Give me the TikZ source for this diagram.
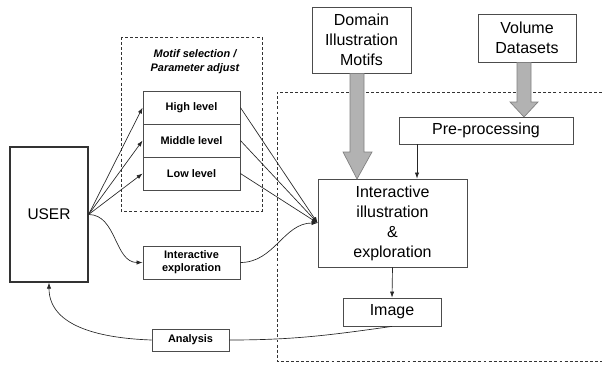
\documentclass[tikz,border=0pt]{standalone}
\usepackage{fontspec}
\setmainfont{Liberation Sans}
\usetikzlibrary{arrows.meta,calc}
\begin{document}
\begin{tikzpicture}[x=0.75pt,y=-0.75pt,
  box/.style={draw=black!70,line width=0.6pt,fill=white,inner sep=0pt,align=center},
  big/.style={font=\fontsize{12}{15}\selectfont},
  small/.style={font=\fontsize{8.2}{10}\selectfont\bfseries},
  conn/.style={draw=black!85,line width=0.5pt,-{Latex[length=4.5pt,width=3.2pt]}},
  plain/.style={draw=black!85,line width=0.5pt},
  dashbox/.style={draw=black!80,line width=0.6pt,dash pattern=on 2.2pt off 1.6pt},
  fat/.style={fill=black!30,draw=black!50,line width=0.5pt}]
\useasboundingbox (0,0) rectangle (602,364);
% dashed regions
\draw[dashbox] (121,37) rectangle (262,211);
\draw[dashbox] (602,92) -- (277,92) -- (277,361) -- (602,361);
\node[font=\fontsize{8.2}{10.5}\selectfont\bfseries\itshape,align=center] (motif) at (195,62) {Motif selection /\\Parameter adjust};
% nodes
\node[box,minimum width=58.5pt,minimum height=101.25pt,line width=0.9pt,draw=black!80,font=\fontsize{11.6}{14}\selectfont] (user) at (49,214.5) {USER};
\node[box,small,minimum width=72.75pt,minimum height=24.75pt] (high) at (191.5,107.5) {High level};
\node[box,small,minimum width=72.75pt,minimum height=24.75pt] (mid) at (191.5,140.5) {Middle level};
\node[box,small,minimum width=72.75pt,minimum height=24.75pt] (low) at (191.5,173.5) {Low level};
\node[box,small,minimum width=72.75pt,minimum height=24.75pt] (iexp) at (191.5,262.5) {Interactive\\exploration};
\node[box,small,minimum width=57.75pt,minimum height=16.5pt] (ana) at (190.5,340) {Analysis};
\node[box,big,minimum width=74.25pt,minimum height=49.5pt] (dom) at (361.5,40) {Domain\\Illustration\\Motifs};
\node[box,big,minimum width=73.5pt,minimum height=36pt] (vol) at (527,38) {Volume\\Datasets};
\node[box,big,minimum width=130.5pt,minimum height=20.25pt] (pre) at (486,130.5) {Pre-processing};
\node[box,big,minimum width=111.75pt,minimum height=66pt] (ii) at (392.5,223) {Interactive\\illustration\\\&\\exploration};
\node[box,big,minimum width=73.5pt,minimum height=21pt] (img) at (392,312) {Image};
% fat arrows
\draw[fat] (350,73.5) -- (364,73.5) -- (364,152) -- (372,152) -- (357,179) -- (343,152) -- (350,152) -- cycle;
\draw[fat] (517,62.5) -- (531,62.5) -- (531,102) -- (538,102) -- (524,117) -- (510,102) -- (517,102) -- cycle;
% connectors
\draw[conn] (user.east) -- (high.west);
\draw[conn] (user.east) -- (mid.west);
\draw[conn] (user.east) -- (low.west);
\draw[conn] (high.east) -- (ii.west);
\draw[conn] (mid.east) -- (ii.west);
\draw[conn] (low.east) -- (ii.west);
\draw[conn] (user.east) to[out=0,in=180] (iexp.west);
\draw[conn] (iexp.east) to[out=0,in=180] (ii.west);
\draw[conn] (pre.south -| 417,0) -- (ii.north -| 417,0);
\draw[conn] (ii.south) -- (img.north);
\draw[plain] (img.south) to[out=188,in=0] (ana.east);
\draw[conn] (ana.west) to[out=178,in=-90] (user.south);
\end{tikzpicture}
\end{document}
